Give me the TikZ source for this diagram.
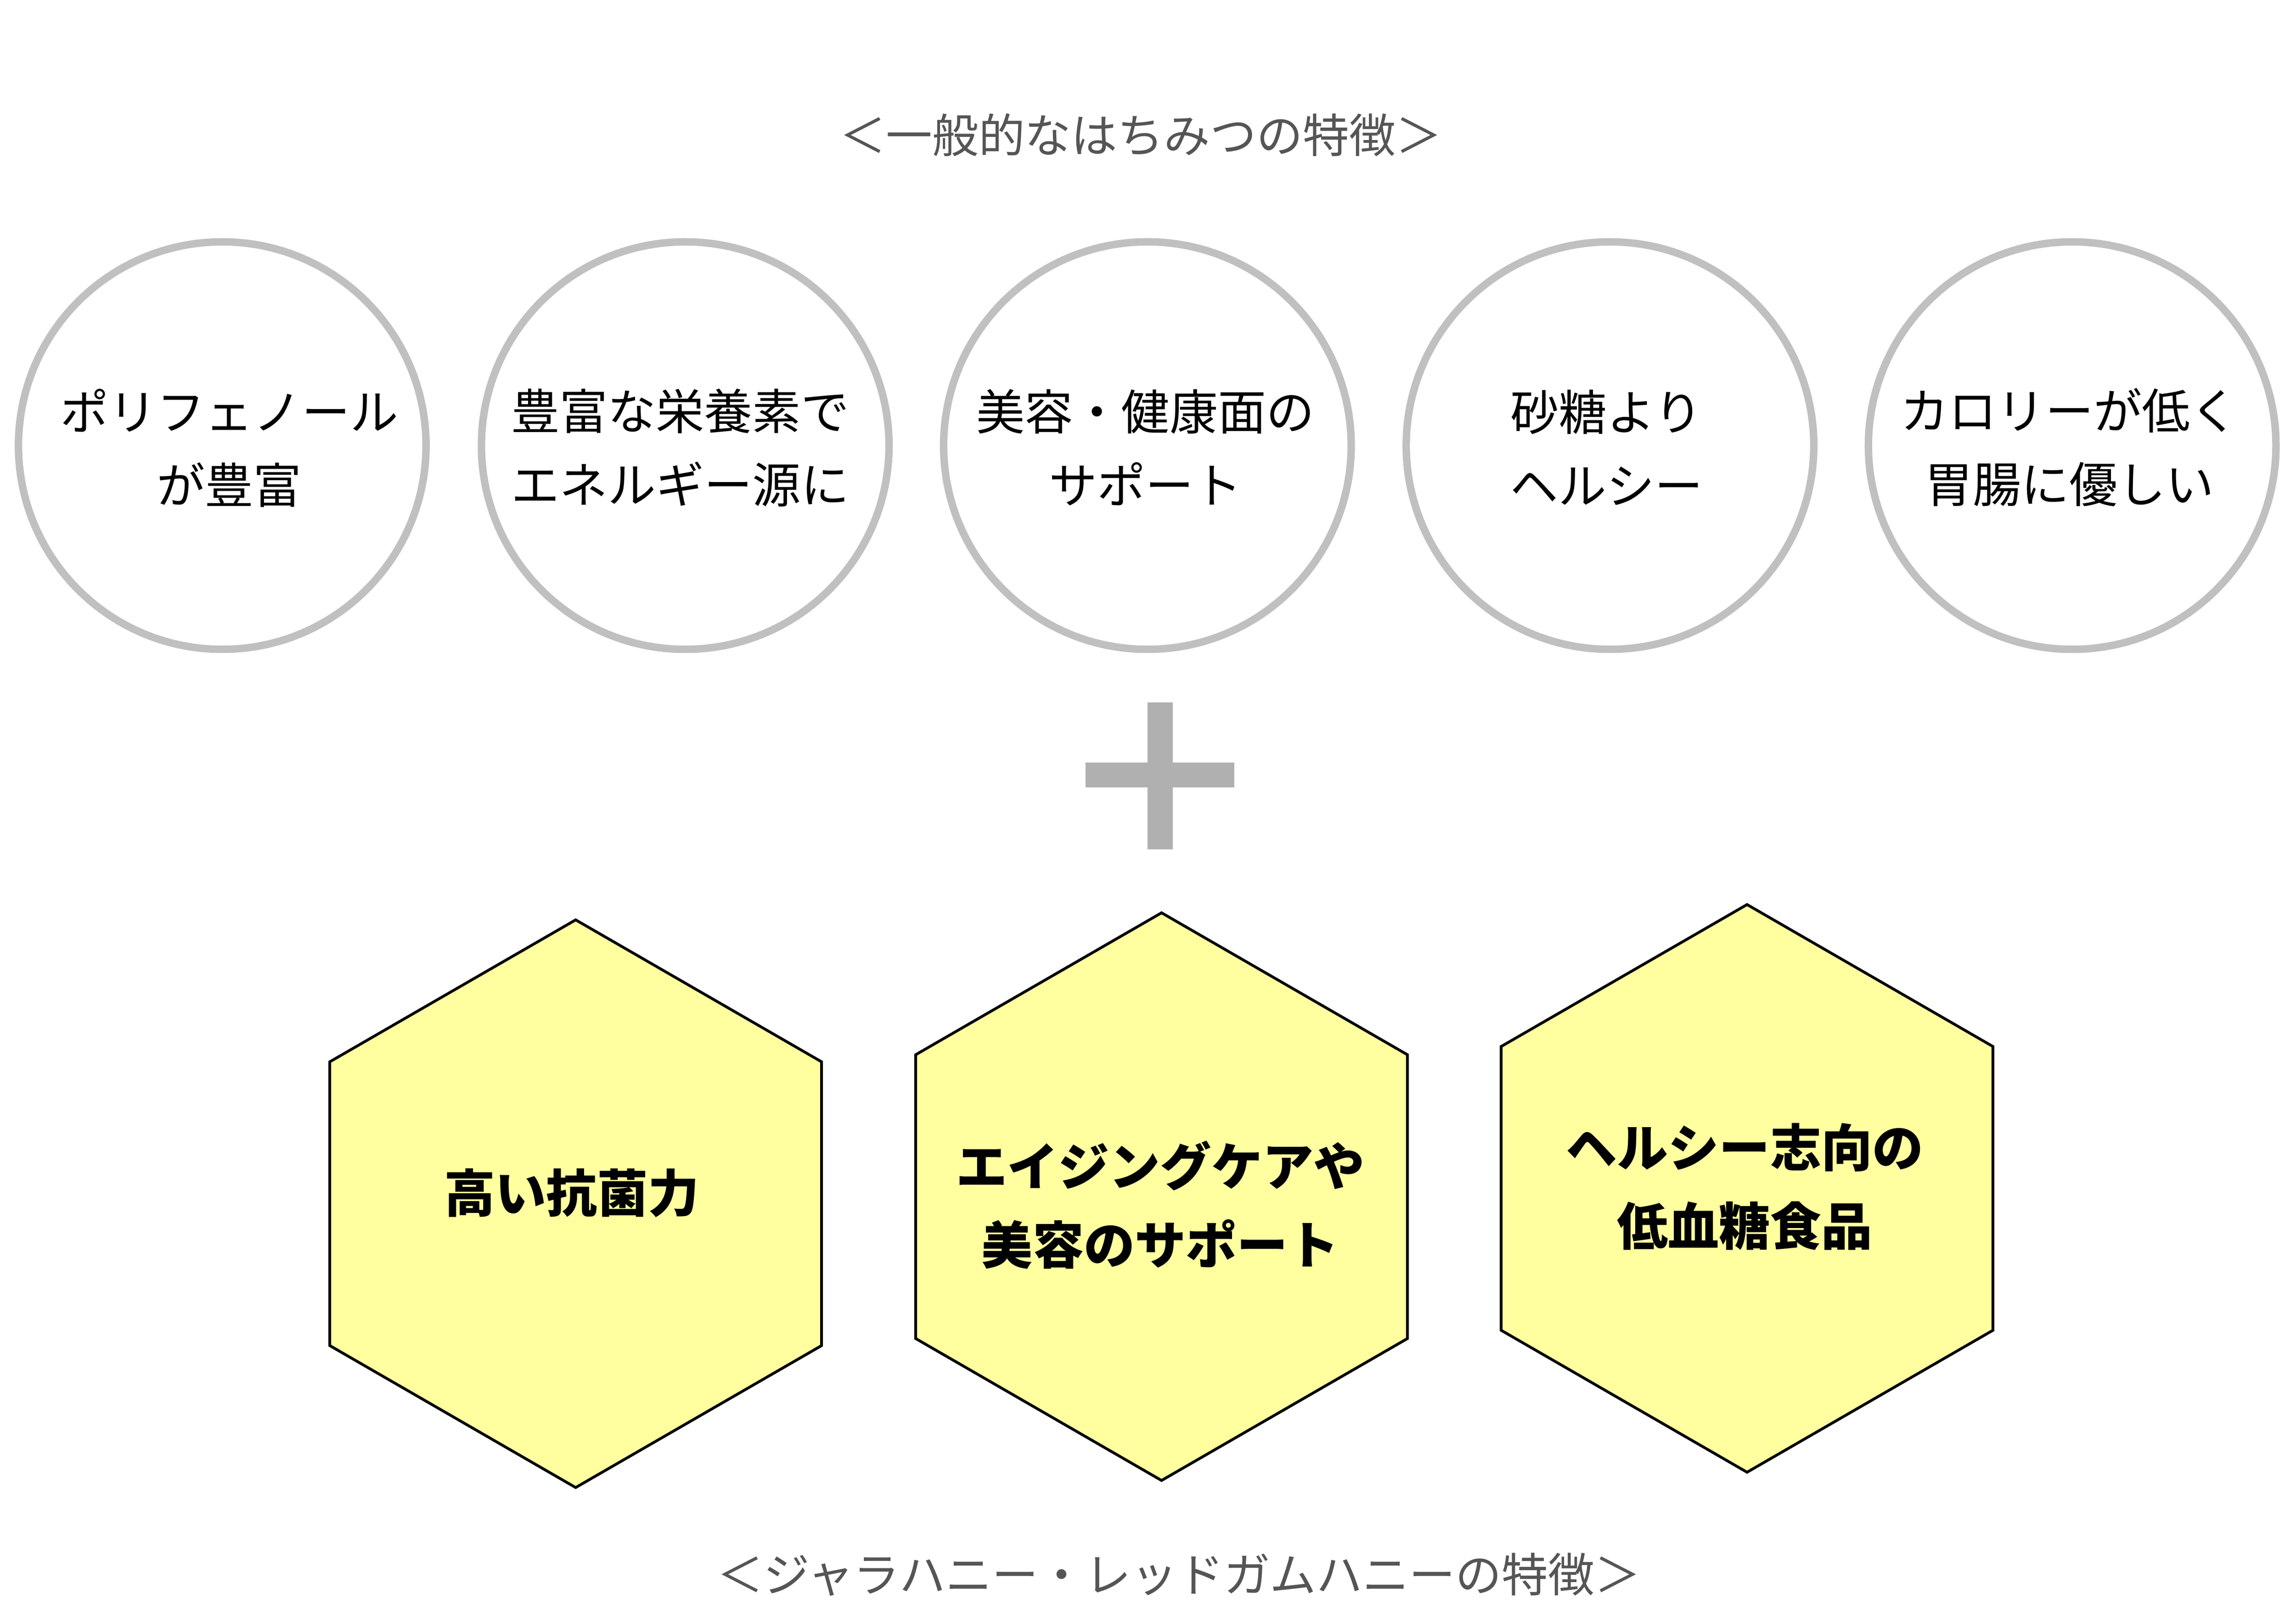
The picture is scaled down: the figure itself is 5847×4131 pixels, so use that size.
\documentclass[tikz,border=0pt]{standalone}
\usepackage{fontspec}
\setmainfont{Noto Sans CJK JP}
\usetikzlibrary{shapes.geometric}
\definecolor{ringgray}{HTML}{C0C0C0}
\definecolor{plusgray}{HTML}{B0B0B0}
\definecolor{hexfill}{HTML}{FFFFA0}
\definecolor{titlegray}{HTML}{555555}
\begin{document}
\begin{tikzpicture}[x=0.1pt,y=-0.1pt,
 ring/.style={circle, draw=ringgray, line width=1.9pt, minimum size=103.8pt, inner sep=0pt},
 ringtext/.style={align=center, font=\fontsize{12.3}{18.7}\selectfont, text=black, inner sep=0pt},
 hexa/.style={regular polygon, regular polygon sides=6, shape border rotate=30, draw=black, fill=hexfill, line width=0.7pt, minimum size=144.6pt, inner sep=0pt},
 hextext/.style={align=center, font=\fontsize{13}{20}\selectfont\bfseries, text=black, inner sep=0pt},
 titletext/.style={font=\fontsize{11.8}{14}\selectfont, text=titlegray, inner sep=0pt}]
\useasboundingbox[fill=white] (0,0) rectangle (5847,4131);
% title
\node[titletext] (title) at (2905,344) {＜一般的なはちみつの特徴＞};
% circles
\node[ring] (c1) at (566,1135) {};
\node[ring] (c2) at (1745,1135) {};
\node[ring] (c3) at (2922,1135) {};
\node[ring] (c4) at (4100,1135) {};
\node[ring] (c5) at (5277,1135) {};
\node[ringtext] (t1) at (584,1141) {ポリフェノール\\が豊富};
\node[ringtext] (t2) at (1732,1141) {豊富な栄養素で\\エネルギー源に};
\node[ringtext] (t3) at (2917,1140) {美容・健康面の\\サポート};
\node[ringtext] (t4) at (4091,1140) {砂糖より\\ヘルシー};
\node[ringtext] (t5) at (5270,1140) {カロリーが低く\\胃腸に優しい};
% plus
\fill[plusgray] (2765,1942) rectangle (3143,2006);
\fill[plusgray] (2922,1789) rectangle (2987,2163);
% hexagons
\node[hexa] (h1) at (1466,3066) {};
\node[hexa] (h2) at (2958,3048) {};
\node[hexa] (h3) at (4449,3027) {};
\node[hextext] (ht1) at (1456,3039) {高い抗菌力};
\node[hextext] (ht2) at (2955,3069) {エイジングケアや\\美容のサポート};
\node[hextext] (ht3) at (4443,3023) {ヘルシー志向の\\低血糖食品};
% subtitle
\node[titletext] (subtitle) at (3002,4010) {＜ジャラハニー・レッドガムハニーの特徴＞};
\end{tikzpicture}
\end{document}
